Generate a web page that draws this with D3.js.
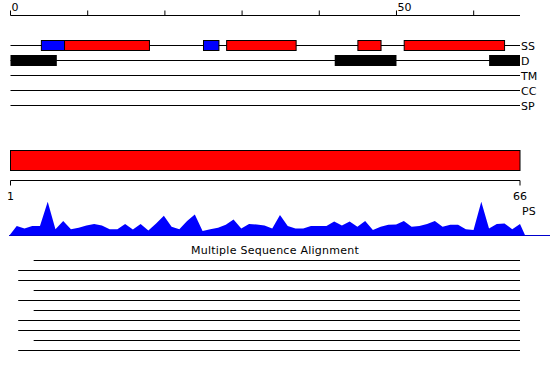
<!DOCTYPE html>
<html>
<head>
<meta charset="utf-8">
<script src="https://cdn.jsdelivr.net/npm/d3@7"></script>
<style>
  body { margin: 0; background: #fff; }
  text { font-family: "DejaVu Sans", sans-serif; font-size: 11px; fill: #000; }
</style>
</head>
<body>
<div id="wrapper"></div>
<script>
// sequence / track data
const seqLength = 66
const topTicks = [0, 10, 20, 30, 40, 50, 60]
const topTickLabels = [0, 50]
const trackNames = ["SS", "D", "TM", "CC", "SP"]

// secondary structure segments (start, end residue)
const strandStarts = [4, 25]
const strandEnds = [7, 27]
const helixStarts = [7, 28, 45, 51]
const helixEnds = [18, 37, 48, 64]

// disorder segments
const disorderStarts = [0, 42, 62]
const disorderEnds = [6, 50, 66]

// domain bar
const domainStart = 1
const domainEnd = 66
const bottomTicks = [1, 66]

// per-residue PS score (1..66)
const psValues = [
  0.28, 0.21, 0.28, 0.28, 0.95, 0.19, 0.42, 0.19, 0.23, 0.29,
  0.33, 0.29, 0.19, 0.19, 0.33, 0.18, 0.33, 0.15, 0.35, 0.56,
  0.26, 0.19, 0.42, 0.60, 0.14, 0.19, 0.23, 0.31, 0.46, 0.21,
  0.33, 0.32, 0.29, 0.21, 0.58, 0.28, 0.21, 0.21, 0.28, 0.28,
  0.28, 0.40, 0.29, 0.40, 0.26, 0.42, 0.17, 0.26, 0.31, 0.32,
  0.42, 0.26, 0.28, 0.33, 0.42, 0.26, 0.31, 0.31, 0.19, 0.17,
  0.95, 0.21, 0.33, 0.35, 0.19, 0.33
]

// alignment rows: where each sequence starts
const msaStarts = [3, 1, 1, 3, 1, 3, 1, 1, 3, 1]
const msaEnd = 66

let dimensions = {
  width: 550,
  height: 380,
  left: 10.5,
  right: 520,
}

const svg = d3.select("#wrapper")
  .append("svg")
    .attr("width", dimensions.width)
    .attr("height", dimensions.height)

const xTop = d3.scaleLinear()
  .domain([0, seqLength])
  .range([dimensions.left, dimensions.right])

const xBottom = d3.scaleLinear()
  .domain([1, seqLength])
  .range([dimensions.left, dimensions.right])

// top ruler
const topAxis = svg.append("g")
  .attr("transform", "translate(0,15.5)")
  .call(d3.axisTop(xTop)
    .tickValues(topTicks)
    .tickSize(5)
    .tickSizeOuter(0)
    .tickPadding(0)
    .offset(0)
    .tickFormat(d => topTickLabels.includes(d) ? d : ""))
topAxis.selectAll("text")
  .attr("text-anchor", "start")
  .attr("dx", 1)
  .style("font-size", "11px")
  .style("font-family", "DejaVu Sans, sans-serif")

// tracks
const yTrack = d3.scalePoint()
  .domain(trackNames)
  .range([45.5, 105.5])

const tracks = svg.append("g")
tracks.selectAll("line")
  .data(trackNames)
  .join("line")
    .attr("x1", xTop(0))
    .attr("x2", xTop(seqLength))
    .attr("y1", d => yTrack(d))
    .attr("y2", d => yTrack(d))
    .attr("stroke", "black")

tracks.selectAll("text")
  .data(trackNames)
  .join("text")
    .attr("x", xTop(seqLength) + 1)
    .attr("y", d => yTrack(d) + 4)
    .text(d => d)

const strands = strandStarts.map((s, i) => ({start: s, end: strandEnds[i], color: "#0000ff"}))
const helices = helixStarts.map((s, i) => ({start: s, end: helixEnds[i], color: "#ff0000"}))
tracks.selectAll("rect.ss")
  .data(strands.concat(helices))
  .join("rect")
    .attr("class", "ss")
    .attr("x", d => xTop(d.start))
    .attr("width", d => xTop(d.end) - xTop(d.start))
    .attr("y", yTrack("SS") - 5)
    .attr("height", 10)
    .attr("fill", d => d.color)
    .attr("stroke", "black")

const disorder = disorderStarts.map((s, i) => ({start: s, end: disorderEnds[i]}))
tracks.selectAll("rect.dis")
  .data(disorder)
  .join("rect")
    .attr("class", "dis")
    .attr("x", d => xTop(d.start))
    .attr("width", d => xTop(d.end) - xTop(d.start))
    .attr("y", yTrack("D") - 5.5)
    .attr("height", 11)
    .attr("fill", "black")

// domain bar
svg.append("rect")
  .attr("x", xBottom(domainStart))
  .attr("width", xBottom(domainEnd) - xBottom(domainStart))
  .attr("y", 150.5)
  .attr("height", 20)
  .attr("fill", "#ff0000")
  .attr("stroke", "black")

// residue ruler
const bottomAxis = svg.append("g")
  .attr("transform", "translate(0,180.5)")
  .call(d3.axisBottom(xBottom)
    .tickValues(bottomTicks)
    .tickSize(5)
    .tickSizeOuter(0)
    .tickPadding(6.5)
    .offset(0))
bottomAxis.selectAll("text")
  .style("font-size", "11px")
  .style("font-family", "DejaVu Sans, sans-serif")

svg.append("text")
  .attr("x", xBottom(seqLength) + 2)
  .attr("y", 215)
  .text("PS")

// PS area
const xPs = d3.scaleLinear()
  .domain([0, seqLength])
  .range([9, 520])
const yPs = d3.scaleLinear()
  .domain([0, 1])
  .range([236, 200])

const psPoints = [[0, 0]]
  .concat(psValues.map((v, i) => [i + 1, v]))
  .concat([[seqLength + 0.7, 0]])

const psArea = d3.area()
  .x(d => xPs(d[0]))
  .y0(yPs(0))
  .y1(d => yPs(d[1]))

svg.append("path")
  .datum(psPoints)
  .attr("d", psArea)
  .attr("fill", "#0000ff")

svg.append("line")
  .attr("x1", xPs(0))
  .attr("x2", dimensions.width)
  .attr("y1", yPs(0) - 0.5)
  .attr("y2", yPs(0) - 0.5)
  .attr("stroke", "#0000cc")

// multiple sequence alignment
svg.append("text")
  .attr("x", dimensions.width / 2)
  .attr("y", 254)
  .attr("text-anchor", "middle")
  .style("letter-spacing", "0.25px")
  .text("Multiple Sequence Alignment")

const yMsa = d3.scaleLinear()
  .domain([0, msaStarts.length - 1])
  .range([260.5, 350.5])

svg.append("g")
  .selectAll("line")
  .data(msaStarts)
  .join("line")
    .attr("x1", d => xTop(d))
    .attr("x2", xTop(msaEnd))
    .attr("y1", (d, i) => yMsa(i))
    .attr("y2", (d, i) => yMsa(i))
    .attr("stroke", "black")
</script>
</body>
</html>
